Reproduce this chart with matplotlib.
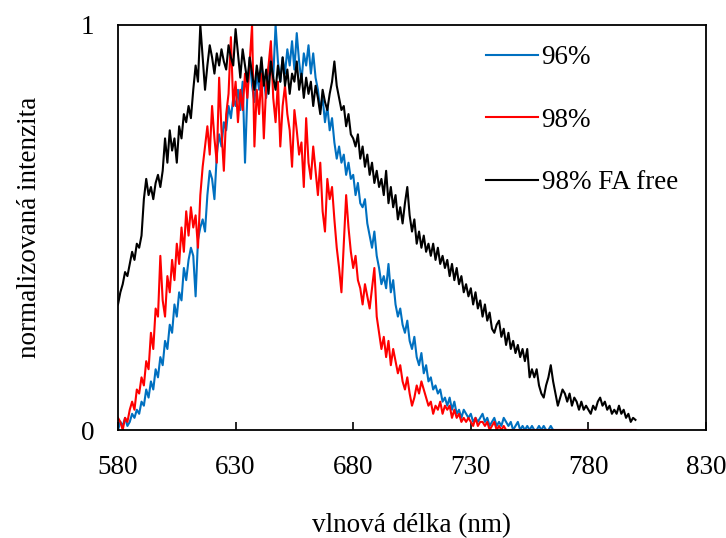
import numpy as np
import matplotlib
matplotlib.use("Agg")
import matplotlib.pyplot as plt

plt.rcParams['font.family'] = ['Liberation Serif', 'DejaVu Serif']

wavelength_start = 580
wavelength_end = 800

black_fa_free = [
    0.31, 0.34, 0.36, 0.39, 0.38, 0.41, 0.44, 0.42, 0.46, 0.45,
    0.48, 0.57, 0.62, 0.58, 0.60, 0.57, 0.61, 0.63, 0.60, 0.64,
    0.72, 0.66, 0.74, 0.69, 0.72, 0.66, 0.75, 0.72, 0.78, 0.76,
    0.80, 0.77, 0.84, 0.90, 0.86, 1.00, 0.92, 0.84, 0.90, 0.95,
    0.92, 0.88, 0.93, 0.90, 0.94, 0.91, 0.89, 0.95, 0.92, 0.90,
    0.99, 0.93, 0.87, 0.94, 0.90, 0.86, 0.92, 0.88, 0.84, 0.90,
    0.86, 0.92, 0.85, 0.89, 0.83, 0.91, 0.87, 0.84, 0.90, 0.86,
    0.92, 0.85, 0.89, 0.83, 0.88, 0.86, 0.91, 0.84, 0.88, 0.82,
    0.87, 0.83, 0.86, 0.80, 0.85, 0.82, 0.78, 0.84, 0.81, 0.79,
    0.83, 0.86, 0.91, 0.85, 0.82, 0.79, 0.80, 0.75, 0.78, 0.73,
    0.72, 0.70, 0.73, 0.67, 0.70, 0.65, 0.68, 0.63, 0.66, 0.61,
    0.64, 0.60, 0.62, 0.58, 0.64, 0.56, 0.60, 0.55, 0.58, 0.52,
    0.55, 0.51, 0.56, 0.60, 0.53, 0.49, 0.52, 0.46, 0.49, 0.45,
    0.48, 0.44, 0.46, 0.43, 0.46, 0.42, 0.45, 0.41, 0.43, 0.40,
    0.42, 0.38, 0.41, 0.37, 0.40, 0.36, 0.38, 0.34, 0.36, 0.33,
    0.35, 0.31, 0.34, 0.30, 0.32, 0.28, 0.31, 0.27, 0.29, 0.25,
    0.24, 0.26, 0.27, 0.23, 0.25, 0.21, 0.24, 0.20, 0.22, 0.19,
    0.21, 0.18, 0.20, 0.17, 0.20, 0.13, 0.15, 0.13, 0.15, 0.11,
    0.09, 0.08, 0.11, 0.13, 0.16, 0.12, 0.09, 0.06, 0.08, 0.10,
    0.09, 0.07, 0.09, 0.06, 0.08, 0.07, 0.05, 0.07, 0.05, 0.06,
    0.05, 0.04, 0.06, 0.05, 0.07, 0.08, 0.06, 0.07, 0.05, 0.06,
    0.04, 0.05, 0.04, 0.06, 0.04, 0.05, 0.03, 0.04, 0.02, 0.03,
    0.025,
]

blue_96 = [
    0.00, 0.02, 0.01, 0.03, 0.01, 0.02, 0.04, 0.03, 0.05, 0.04,
    0.07, 0.06, 0.10, 0.08, 0.12, 0.10, 0.15, 0.13, 0.18, 0.16,
    0.22, 0.20, 0.26, 0.24, 0.31, 0.28, 0.34, 0.32, 0.40, 0.37,
    0.42, 0.45, 0.43, 0.33, 0.47, 0.50, 0.52, 0.49, 0.58, 0.64,
    0.62, 0.57, 0.68, 0.73, 0.70, 0.76, 0.74, 0.80, 0.77, 0.82,
    0.80, 0.84, 0.79, 0.86, 0.66, 0.83, 0.92, 0.85, 0.81, 0.88,
    0.84, 0.90, 0.86, 0.82, 0.89, 0.93, 0.87, 1.00, 0.91, 0.86,
    0.92, 0.88, 0.94, 0.90, 0.96, 0.89, 0.98, 0.91, 0.86, 0.93,
    0.90, 0.95, 0.88, 0.93, 0.87, 0.84, 0.79, 0.82, 0.76, 0.80,
    0.74, 0.77, 0.71, 0.67, 0.70, 0.66, 0.68, 0.63, 0.66, 0.62,
    0.63, 0.58, 0.61, 0.56, 0.55, 0.57, 0.51, 0.48, 0.45, 0.49,
    0.43, 0.40, 0.36, 0.38, 0.35, 0.41, 0.34, 0.37, 0.31, 0.28,
    0.30, 0.26, 0.24, 0.27, 0.22, 0.20, 0.23, 0.18, 0.16, 0.19,
    0.14, 0.16, 0.12, 0.13, 0.10, 0.11, 0.09, 0.10, 0.07, 0.08,
    0.06, 0.08, 0.05, 0.07, 0.04, 0.05, 0.03, 0.05, 0.04, 0.03,
    0.04, 0.02, 0.03, 0.02, 0.03, 0.04, 0.02, 0.03, 0.01, 0.02,
    0.03, 0.01, 0.02, 0.01, 0.03, 0.02, 0.01, 0.02, 0.00, 0.01,
    0.02, 0.00, 0.01, 0.00, 0.01, 0.00, 0.01, 0.00, 0.00, 0.01,
    0.00, 0.01, 0.00, 0.00, 0.01, 0.00, 0.00, 0.00, 0.00, 0.00,
    0.00, 0.00, 0.00, 0.00, 0.00, 0.00, 0.00, 0.00, 0.00, 0.00,
    0.00, 0.00, 0.00, 0.00, 0.00, 0.00, 0.00, 0.00, 0.00, 0.00,
    0.00, 0.00, 0.00, 0.00, 0.00, 0.00, 0.00, 0.00, 0.00, 0.00,
    0.00,
]

red_98 = [
    0.03, 0.02, 0.00, 0.03, 0.02, 0.05, 0.07, 0.05, 0.10, 0.09,
    0.13, 0.11, 0.17, 0.15, 0.24, 0.20, 0.30, 0.28, 0.43, 0.32,
    0.28, 0.38, 0.34, 0.42, 0.37, 0.46, 0.41, 0.50, 0.44, 0.54,
    0.48, 0.55, 0.50, 0.53, 0.45, 0.58, 0.65, 0.70, 0.75, 0.68,
    0.80, 0.72, 0.66, 0.87, 0.74, 0.64, 0.78, 0.83, 0.97, 0.80,
    0.86, 0.76, 0.84, 0.79, 0.88, 0.82, 0.91, 1.00, 0.70, 0.84,
    0.78, 0.88, 0.72, 0.85, 0.90, 0.96, 0.82, 0.76, 0.86, 0.70,
    0.80, 0.85, 0.78, 0.74, 0.65, 0.79, 0.74, 0.68, 0.71, 0.60,
    0.77, 0.66, 0.62, 0.70, 0.64, 0.58, 0.66, 0.54, 0.49, 0.62,
    0.57, 0.60, 0.52, 0.45, 0.40, 0.34, 0.46, 0.58, 0.50, 0.44,
    0.40, 0.43, 0.37, 0.35, 0.31, 0.36, 0.33, 0.30, 0.35, 0.40,
    0.28, 0.24, 0.20, 0.23, 0.18, 0.22, 0.16, 0.20, 0.17, 0.14,
    0.16, 0.12, 0.10, 0.13, 0.09, 0.06, 0.08, 0.11, 0.09, 0.12,
    0.10, 0.08, 0.06, 0.07, 0.04, 0.06, 0.05, 0.07, 0.04, 0.06,
    0.05, 0.06, 0.03, 0.05, 0.03, 0.04, 0.02, 0.03, 0.02, 0.03,
    0.02, 0.01, 0.03, 0.01, 0.02, 0.02, 0.01, 0.02, 0.00, 0.01,
    0.02, 0.00, 0.01, 0.00, 0.01, 0.00, 0.00, 0.00, 0.00, 0.00,
    0.00, 0.00, 0.00, 0.00, 0.00, 0.00, 0.00, 0.00, 0.00, 0.00,
    0.00, 0.00, 0.00, 0.00, 0.00, 0.00, 0.00, 0.00, 0.00, 0.00,
    0.00, 0.00, 0.00, 0.00, 0.00, 0.00, 0.00, 0.00, 0.00, 0.00,
    0.00, 0.00, 0.00, 0.00, 0.00, 0.00, 0.00, 0.00, 0.00, 0.00,
    0.00, 0.00, 0.00, 0.00, 0.00, 0.00, 0.00, 0.00, 0.00, 0.00,
    0.00,
]

series_labels = ["96%", "98%", "98% FA free"]
x_ticks = [580, 630, 680, 730, 780, 830]
y_ticks = [0, 1]

wl = np.arange(wavelength_start, wavelength_end + 1)

FS = 19.5
fig = plt.figure(figsize=(7.26, 5.38), dpi=100)
ax = fig.add_axes([118/726, 1 - 430/538, (706-118)/726, (430-25)/538])

ax.plot(wl, blue_96, color='#0070C0', lw=1.5, label=series_labels[0])
ax.plot(wl, red_98, color='#FF0000', lw=1.5, label=series_labels[1])
ax.plot(wl, black_fa_free, color='#000000', lw=1.5, label=series_labels[2])

ax.set_xlim(580, 830)
ax.set_ylim(0, 1)
ax.set_xticks(x_ticks)
ax.set_yticks(y_ticks)
ax.set_yticklabels(['0', '1'])
ax.tick_params(axis='x', direction='in', length=6, width=1.2, pad=18, labelsize=FS)
ax.tick_params(axis='y', direction='in', length=0, pad=17, labelsize=FS)
for s in ax.spines.values():
    s.set_linewidth(1.3)
    s.set_color('black')

ax.set_xlabel('vlnová délka (nm)', fontsize=FS, labelpad=24)
ax.set_ylabel('normalizovaná intenzita', fontsize=FS, labelpad=28)

leg = ax.legend(loc='upper left', bbox_to_anchor=(0.625, 0.95), frameon=False,
                fontsize=FS, handlelength=1.95, handletextpad=0.12,
                labelspacing=1.38, borderpad=0, borderaxespad=0)

fig.savefig('out.png', dpi=100)
